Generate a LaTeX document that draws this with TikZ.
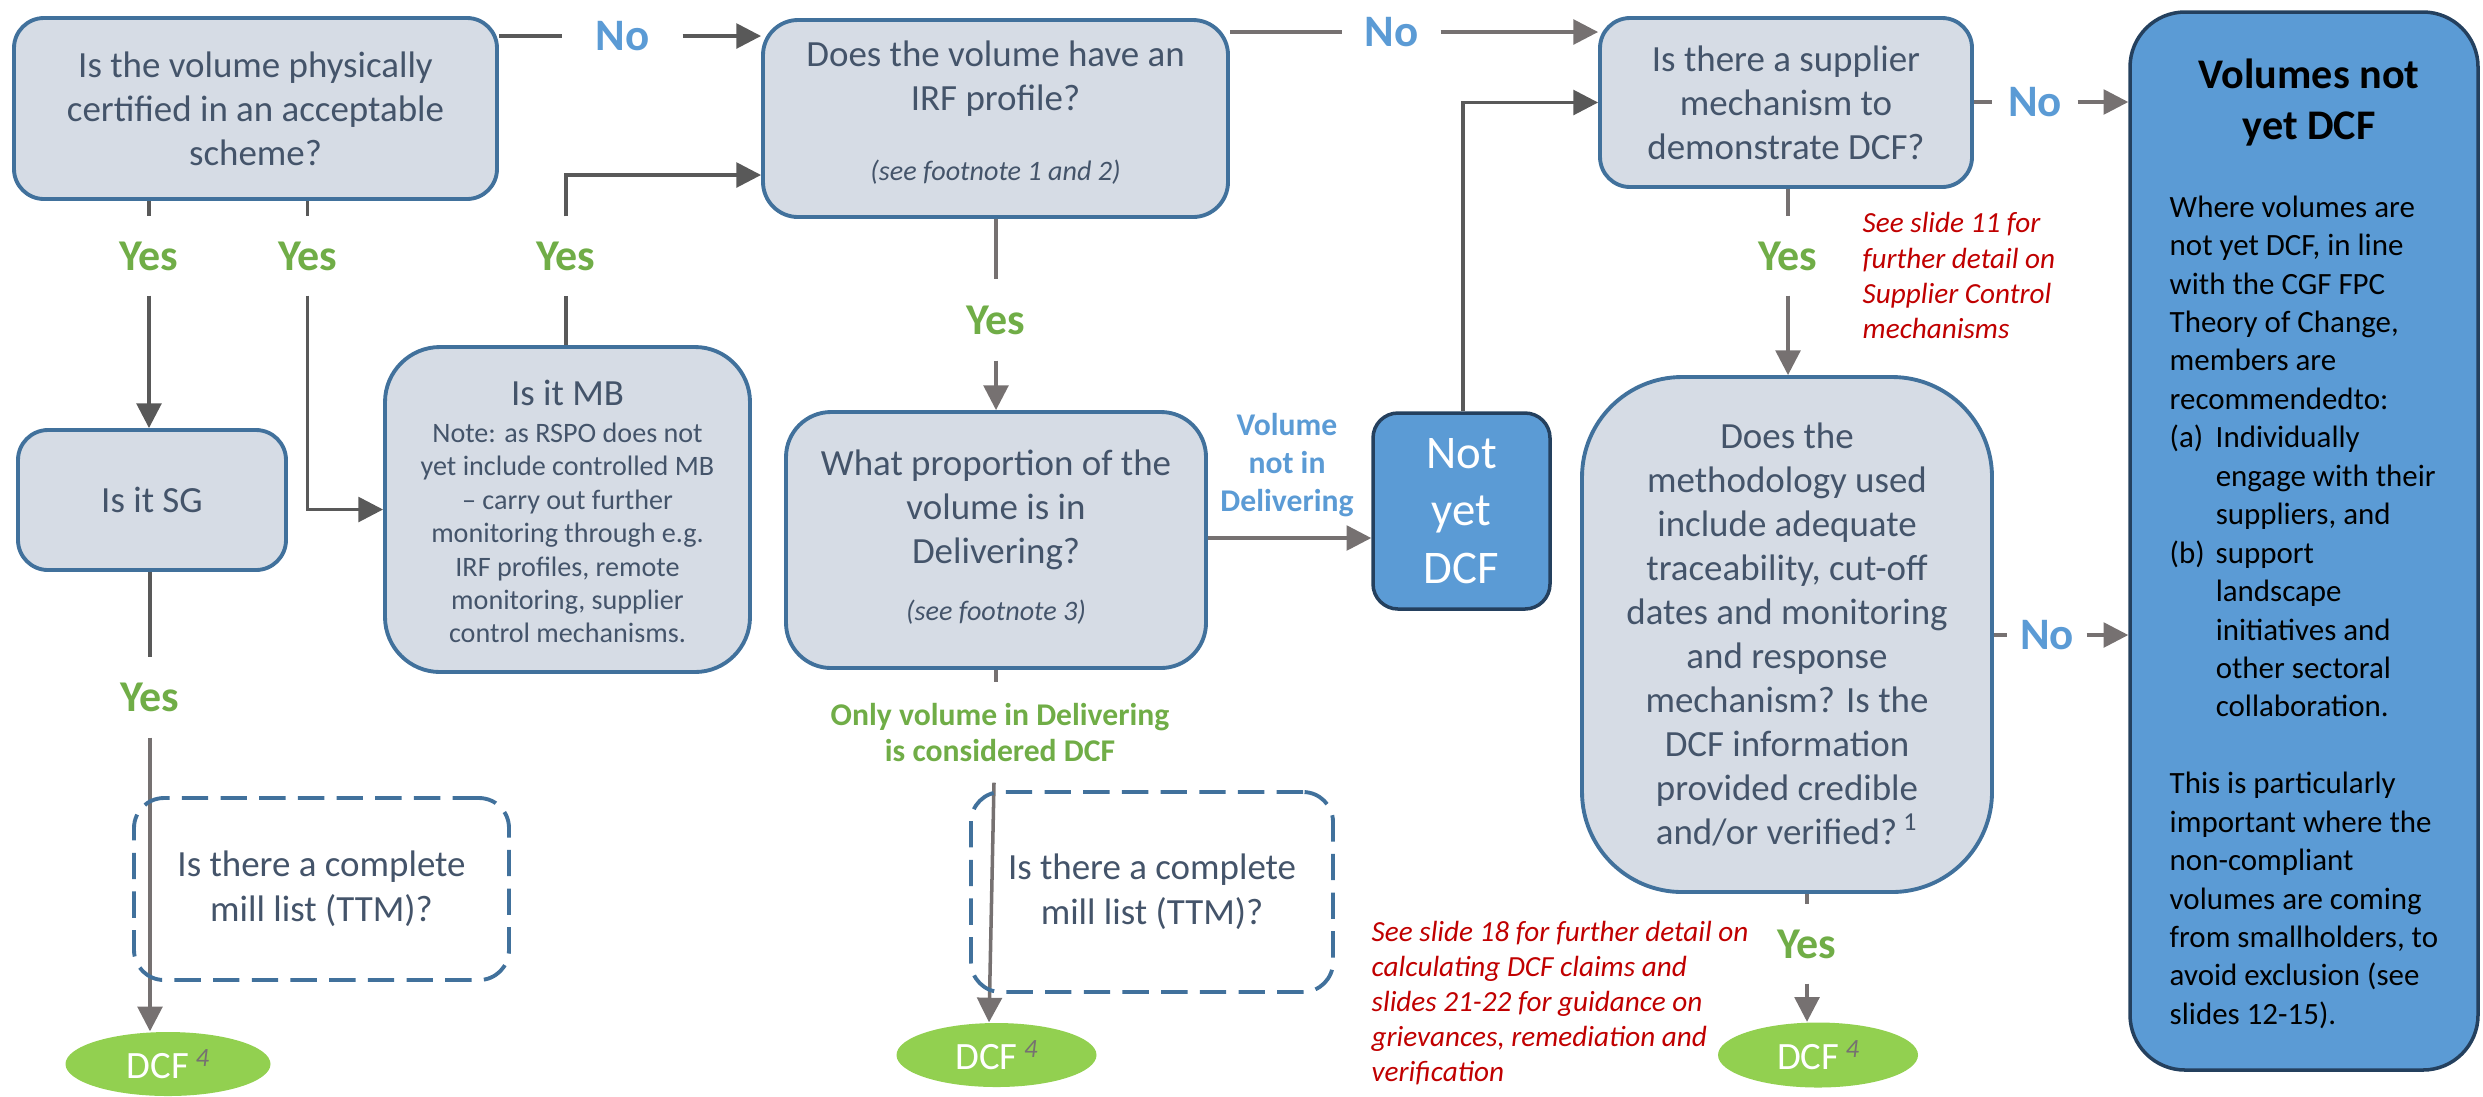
\documentclass[tikz,border=0pt]{standalone}
\usepackage{fontspec}
\setmainfont{Carlito}
\usetikzlibrary{arrows.meta,backgrounds,shapes.geometric}
\definecolor{boxfill}{HTML}{D6DCE5}
\definecolor{boxline}{HTML}{41719C}
\definecolor{txt}{HTML}{44546A}
\definecolor{cdark}{HTML}{595959}
\definecolor{clight}{HTML}{767171}
\definecolor{yesgreen}{HTML}{70AD47}
\definecolor{noblue}{HTML}{5B9BD5}
\definecolor{redtxt}{HTML}{C00000}
\definecolor{dcfgreen}{HTML}{92D050}
\definecolor{navy}{HTML}{24405E}
\newcommand\fs[2]{\fontsize{#1}{#2}\selectfont}
\newcommand\fnfour{{\color{clight}\fs{7.5}{9}\itshape\raisebox{0.9ex}{4}}}
\begin{document}
\begin{tikzpicture}[x=0.01cm,y=-0.01cm,
  sz/.style 2 args={minimum width=#1*0.01cm, minimum height=#2*0.01cm},
  qbox/.style={draw=boxline, fill=boxfill, line width=1.1pt, inner sep=0pt, align=center, text=txt, font=\fs{10.5}{12.5}},
  qtext/.style={inner sep=0pt, align=center, text=txt, font=\fs{10.5}{12.5}},
  footn/.style={inner sep=0pt, text=txt, font=\fs{8}{9.5}\itshape},
  notetext/.style={inner sep=0pt, align=center, text=txt, font=\fs{8}{9.5}},
  nybox/.style={draw=navy, fill=noblue, line width=1pt, rounded corners=0.25cm, inner sep=0pt, align=center, text=white, font=\fs{13.3}{16.4}},
  rbox/.style={draw=navy, fill=noblue, line width=1pt, rounded corners=0.55cm, inner sep=0pt},
  rtitle/.style={inner sep=0pt, align=center, text=black, font=\fs{12}{14.5}\bfseries},
  rbody/.style={inner sep=0pt, align=left, text=black, font=\fs{8.8}{10.93}},
  dbox/.style={draw=boxline, dash pattern=on 7.5pt off 3.5pt, line width=1.1pt, rounded corners=0.3cm, inner sep=0pt, align=center, text=txt, font=\fs{10.5}{12.8}},
  yeslbl/.style={inner sep=0pt, text=yesgreen, font=\fs{12.5}{14}\bfseries},
  nolbl/.style={inner sep=0pt, text=noblue, font=\fs{12.8}{14}\bfseries},
  vnlbl/.style={inner sep=0pt, align=center, text=noblue, font=\fs{9}{10.8}\bfseries},
  ovlbl/.style={inner sep=0pt, align=center, text=yesgreen, font=\fs{9}{10.5}\bfseries},
  rednote/.style={inner sep=0pt, align=left, text=redtxt, font=\fs{8.3}{10}\itshape},
  dcf/.style={ellipse, fill=dcfgreen, inner sep=0pt, text=white, font=\fs{11}{13}},
  cd/.style={draw=cdark, line width=1pt},
  cl/.style={draw=clight, line width=1pt},
  arr/.style={-{Triangle[length=7pt,width=7pt]}}
]
\useasboundingbox (0,0) rectangle (2483,1096);

% question boxes
\node[qbox, sz={483}{181}, rounded corners=0.3cm] (q1) at (255.5,108.5) {Is the volume physically\\certified in an acceptable\\scheme?};
\node[qbox, sz={465}{197}, rounded corners=0.35cm] (q2) at (995.5,118.5) {};
\node[qtext] (q2t) at (995.5,79) {Does the volume have an\\IRF profile?};
\node[footn] (q2f) at (995.5,172) {(see footnote 1 and 2)};
\node[qbox, sz={372}{169}, rounded corners=0.3cm] (q3) at (1786,102.5) {Is there a supplier\\mechanism to\\demonstrate DCF?};
\node[qbox, sz={268}{140}, rounded corners=0.3cm] (sg) at (152,500) {Is it SG};
\node[qbox, sz={365}{325}, rounded corners=0.55cm] (mb) at (567.5,509.5) {};
\node[qtext] (mbt) at (567.5,393) {Is it MB};
\node[notetext] (mbn) at (567.5,533) {Note: as RSPO does not\\yet include controlled MB\\– carry out further\\monitoring through e.g.\\IRF profiles, remote\\monitoring, supplier\\control mechanisms.};
\node[qbox, sz={420}{256}, rounded corners=0.45cm] (q4) at (996,540) {};
\node[qtext] (q4t) at (996,510) {What proportion of the\\volume is in\\Delivering?};
\node[footn] (q4f) at (996,612) {(see footnote 3)};
\node[nybox, sz={177}{196}] (ny) at (1461.5,511) {Not\\yet\\DCF};
\node[qbox, sz={410}{515}, rounded corners=1cm] (q5) at (1787,634.5) {Does the\\methodology used\\include adequate\\traceability, cut-off\\dates and monitoring\\and response\\mechanism? Is the\\DCF information\\provided credible\\and/or verified?\,\textsuperscript{1}};

% right box
\node[rbox, sz={348}{1058}] (rb) at (2304,541) {};
\node[rtitle] (rbt) at (2309,102.5) {Volumes not\\yet DCF};
\node[rbody, anchor=north west] (rbb) at (2169,195) {Where volumes are\\
not yet DCF, in line\\
with the CGF FPC\\
Theory of Change,\\
members are\\
recommendedto:\\
\makebox[0.46cm][l]{(a)}Individually\\
\hspace*{0.46cm}engage with their\\
\hspace*{0.46cm}suppliers, and\\
\makebox[0.46cm][l]{(b)}support\\
\hspace*{0.46cm}landscape\\
\hspace*{0.46cm}initiatives and\\
\hspace*{0.46cm}other sectoral\\
\hspace*{0.46cm}collaboration.\\[10.93pt]
This is particularly\\
important where the\\
non-compliant\\
volumes are coming\\
from smallholders, to\\
avoid exclusion (see\\
slides 12-15).};

% dashed boxes
\node[dbox, sz={375}{182}] (d1) at (321.5,889) {Is there a complete\\mill list (TTM)?};
\node[dbox, sz={362}{200}] (d2) at (1152,892) {Is there a complete\\mill list (TTM)?};

% DCF ellipses
\node[dcf, sz={205}{64}] (e1) at (168,1064) {DCF\,\fnfour};
\node[dcf, sz={200}{64}] (e2) at (996.5,1055) {DCF\,\fnfour};
\node[dcf, sz={200}{65}] (e3) at (1818,1055) {DCF\,\fnfour};

% labels
\node[yeslbl, sz={60}{78}] (y1) at (149,256) {Yes};
\node[yeslbl, sz={60}{78}] (y2) at (307.6,256) {Yes};
\node[yeslbl, sz={60}{78}] (y3) at (566,256) {Yes};
\node[yeslbl, sz={60}{80}] (y4) at (996,320) {Yes};
\node[yeslbl, sz={60}{78}] (y5) at (1788,256) {Yes};
\node[yeslbl, sz={60}{79}] (y6) at (150,697.5) {Yes};
\node[yeslbl, sz={60}{78}] (y7) at (1807,944) {Yes};
\node[nolbl, sz={119}{40}] (n1) at (622.5,36) {No};
\node[nolbl, sz={97}{40}] (n2) at (1391.5,32) {No};
\node[nolbl, sz={84}{40}] (n3) at (2035,102) {No};
\node[nolbl, sz={78}{40}] (n4) at (2047,635) {No};
\node[vnlbl] (vn) at (1287,465) {Volume\\not in\\Delivering};
\node[ovlbl, sz={10}{99}] (ov) at (1000,732.5) {Only volume in Delivering\\is considered DCF};
\node[rednote, anchor=north west] (r1) at (1862,212) {See slide 11 for\\further detail on\\Supplier Control\\mechanisms};
\node[rednote, anchor=north west] (r2) at (1371,920) {See slide 18 for further detail on\\calculating DCF claims and\\slides 21-22 for guidance on\\grievances, remediation and\\verification};

% connectors
\begin{scope}[on background layer]
\draw[cd] (q1.east |- n1) -- (n1.west);
\draw[cd, arr] (n1.east) -- (q2.west |- n1);
\draw[cl] (q2.east |- n2) -- (n2.west);
\draw[cl, arr] (n2.east) -- (q3.west |- n2);
\draw[cl] (q3.east |- n3) -- (n3.west);
\draw[cl, arr] (n3.east) -- (rb.west |- n3);
\draw[cl] (q5.east |- n4) -- (n4.west);
\draw[cl, arr] (n4.east) -- (rb.west |- n4);
\draw[cd] (y1.north |- q1.south) -- (y1.north);
\draw[cd, arr] (y1.south) -- (y1.south |- sg.north);
\draw[cd] (y2.north |- q1.south) -- (y2.north);
\draw[cd, arr] (y2.south) |- (mb.west);
\draw[cd] (y3.south |- mb.north) -- (y3.south);
\draw[cd, arr] (y3.north) |- (q2.west |- 0,175);
\draw[cl] (y4.north |- q2.south) -- (y4.north);
\draw[cl, arr] (y4.south) -- (y4.south |- q4.north);
\draw[cl] (y5.north |- q3.south) -- (y5.north);
\draw[cl, arr] (y5.south) -- (y5.south |- q5.north);
\draw[cd] (y6.north |- sg.south) -- (y6.north);
\draw[cl, arr] (y6.south) -- (y6.south |- e1.north);
\draw[cl] (y7.north |- q5.south) -- (y7.north);
\draw[cl, arr] (y7.south) -- (y7.south |- e3.north);
\draw[cl, arr] (q4.east |- 0,538) -- (ny.west |- 0,538);
\draw[cd, arr] (ny.north -| 1463,0) |- (q3.west);
\draw[cl] (q4.south) -- (q4.south |- ov.north);
\draw[cl, arr] (ov.south -| 994,0) -- (e2.north -| 989,0);
\end{scope}
\end{tikzpicture}
\end{document}
